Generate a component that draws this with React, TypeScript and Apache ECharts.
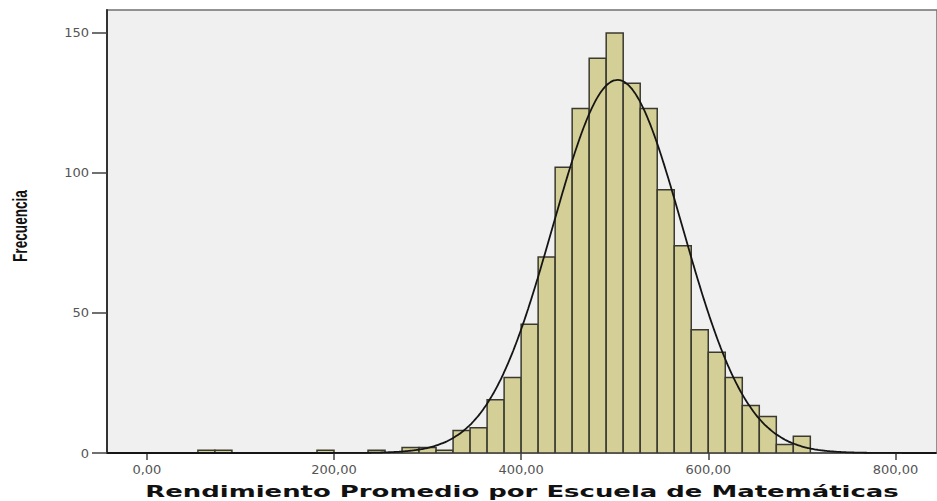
import React, { useEffect, useRef } from "react";
import * as echarts from "echarts";

// Histogram counts, one per bin, starting at FIRST_BIN_EDGE
const COUNTS = [
  1, 1, 0, 0, 0, 0, 0, 1, 0, 0, 1, 0, 2, 2, 1,
  8, 9, 19, 27, 46, 70, 102, 123, 141, 150, 132, 123, 94, 74,
  44, 36, 27, 17, 13, 3, 6,
];
const FIRST_BIN_EDGE = 54.55;
const BIN_WIDTH = 18.18;
const X_TICKS = [0, 200, 400, 600, 800];
const Y_TICKS = [0, 50, 100, 150];
const X_MIN = -42.6;
const X_MAX = 844.4;
const Y_MAX = 158.2;
const MEAN = 503;
const SD = 69.3;
const X_TITLE = "Rendimiento Promedio por Escuela de Matemáticas";
const Y_TITLE = "Frecuencia";

function measure(text: string, font: string): number {
  const ctx = document.createElement("canvas").getContext("2d");
  if (!ctx) return 100;
  ctx.font = font;
  return ctx.measureText(text).width || 100;
}

export default function App() {
  const ref = useRef<HTMLDivElement>(null);
  useEffect(() => {
    document.body.style.margin = "0";
    if (!ref.current) return;
    const chart = echarts.init(ref.current, undefined, { renderer: "svg" });

    const bins = COUNTS.map((c, i) => [
      FIRST_BIN_EDGE + i * BIN_WIDTH,
      FIRST_BIN_EDGE + (i + 1) * BIN_WIDTH,
      c,
    ]).filter((b) => b[2] > 0);

    const n = COUNTS.reduce((a, b) => a + b, 0);
    const curve: number[][] = [];
    for (let x = X_MIN; x <= X_MAX; x += 2) {
      const z = (x - MEAN) / SD;
      curve.push([x, (n * BIN_WIDTH * Math.exp(-0.5 * z * z)) / (SD * Math.sqrt(2 * Math.PI))]);
    }

    const xFont = "bold 16px 'DejaVu Sans'";
    const yFont = "bold 21px 'Liberation Sans'";
    const xScale = 754 / measure(X_TITLE, xFont);
    const yScale = 72 / measure(Y_TITLE, yFont);

    chart.setOption({
      animation: false,
      backgroundColor: "#ffffff",
      grid: {
        left: 107,
        top: 10,
        right: -3,
        bottom: 48,
        show: true,
        backgroundColor: "#f0f0f0",
        borderColor: "#707070",
        borderWidth: 1.5,
      },
      xAxis: {
        type: "value",
        min: X_MIN,
        max: X_MAX,
        splitLine: { show: false },
        axisLine: { show: true, onZero: false, lineStyle: { color: "#404040", width: 1.5 } },
        axisTick: {
          show: true,
          customValues: X_TICKS,
          length: 7,
          lineStyle: { color: "#404040", width: 1.5 },
        },
        axisLabel: {
          customValues: X_TICKS,
          margin: 10,
          fontSize: 13,
          fontFamily: "DejaVu Sans",
          color: "#555555",
          formatter: (v: number) => v.toFixed(2).replace(".", ","),
        },
      },
      yAxis: {
        type: "value",
        min: 0,
        max: Y_MAX,
        splitLine: { show: false },
        axisLine: { show: true, onZero: false, lineStyle: { color: "#333333", width: 2 } },
        axisTick: {
          show: true,
          customValues: Y_TICKS,
          length: 15,
          lineStyle: { color: "#404040", width: 1.5 },
        },
        axisLabel: {
          customValues: Y_TICKS,
          margin: 18,
          fontSize: 13,
          fontFamily: "DejaVu Sans",
          color: "#555555",
        },
      },
      series: [
        {
          type: "custom",
          data: bins,
          encode: { x: [0, 1], y: 2 },
          clip: true,
          z: 2,
          renderItem: (params: any, api: any) => {
            const p0 = api.coord([api.value(0), api.value(2)]);
            const p1 = api.coord([api.value(1), 0]);
            return {
              type: "rect",
              shape: { x: p0[0], y: p0[1], width: p1[0] - p0[0], height: p1[1] - p0[1] },
              style: { fill: "#d4cf97", stroke: "#3a3a30", lineWidth: 1.5 },
            };
          },
        },
        {
          type: "line",
          data: curve,
          showSymbol: false,
          smooth: true,
          clip: true,
          z: 3,
          lineStyle: { color: "#151515", width: 1.8 },
        },
      ],
      graphic: [
        {
          type: "text",
          x: 522,
          y: 491,
          scaleX: xScale,
          style: {
            text: X_TITLE,
            fontSize: 16,
            fontWeight: "bold",
            fontFamily: "DejaVu Sans",
            fill: "#111111",
            align: "center",
            verticalAlign: "middle",
            textAlign: "center",
            textVerticalAlign: "middle",
          },
        },
        {
          type: "text",
          x: 20,
          y: 226,
          rotation: Math.PI / 2,
          scaleX: yScale,
          style: {
            text: Y_TITLE,
            fontSize: 21,
            fontWeight: "bold",
            fontFamily: "Liberation Sans",
            fill: "#111111",
            align: "center",
            verticalAlign: "middle",
            textAlign: "center",
            textVerticalAlign: "middle",
          },
        },
      ],
    });
    return () => chart.dispose();
  }, []);
  return (
    <div
      ref={ref}
      style={{ position: "fixed", left: 0, top: 0, width: 937, height: 501, background: "#fff" }}
    />
  );
}
